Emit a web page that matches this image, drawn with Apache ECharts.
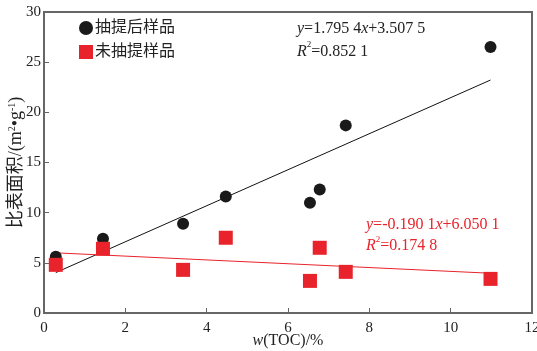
<!DOCTYPE html>
<html><head><meta charset="utf-8">
<script src="https://cdn.jsdelivr.net/npm/echarts@6/dist/echarts.min.js"></script>
<style>html,body{margin:0;padding:0;background:#fff}#c{width:537px;height:351px}</style>
</head><body><div id="c"></div>
<script>
const extractedX = [0.29, 1.45, 3.42, 4.47, 6.54, 6.78, 7.42, 10.98];
const extractedY = [5.6, 7.4, 8.9, 11.6, 11.0, 12.3, 18.7, 26.5];
const rawX = [0.29, 1.45, 3.42, 4.47, 6.54, 6.78, 7.42, 10.98];
const rawY = [4.8, 6.4, 4.3, 7.5, 3.2, 6.5, 4.1, 3.4];
const fitA = {k: 1.7954, b: 3.5075};
const fitB = {k: -0.1901, b: 6.0501};
const fitRange = [0.29, 10.98];
const xTicks = [0, 2, 4, 6, 8, 10, 12];
const yTicks = [0, 5, 10, 15, 20, 25, 30];
const names = ['抽提后样品', '未抽提样品'];

const serif = '"Liberation Serif","Noto Sans CJK SC",serif';
const axisColor = '#666';
const red = '#e8232b';
const chart = echarts.init(document.getElementById('c'));
const pairs = (xs, ys) => xs.map((x, i) => [x, ys[i]]);
const fitLine = f => fitRange.map(x => [x, f.k * x + f.b]);

chart.setOption({
  animation: false,
  textStyle: {fontFamily: serif},
  grid: {left: 44, right: 5, top: 12, bottom: 38, containLabel: false, outerBoundsMode: 'none'},
  legend: {
    orient: 'vertical', left: 74, top: 15, itemGap: 8, itemWidth: 14, itemHeight: 14,
    textStyle: {fontSize: 16, color: '#222', fontFamily: serif, padding: [0, 0, 0, -3]},
    data: [{name: names[0], icon: 'circle', itemStyle: {opacity: 1}}, {name: names[1], icon: 'rect', itemStyle: {opacity: 1}}]
  },
  xAxis: {
    type: 'value', min: 0, max: 12, interval: 2,
    name: '{i|w}(TOC)/%', nameLocation: 'middle', nameGap: 20, nameMoveOverlap: false,
    nameTextStyle: {fontSize: 16, color: '#222', fontFamily: serif,
      rich: {i: {fontStyle: 'italic', fontSize: 16, fontFamily: serif, color: '#222'}}},
    axisLine: {show: true, lineStyle: {color: axisColor, width: 2}},
    axisTick: {show: true, inside: true, length: 5, lineStyle: {color: axisColor, width: 1}},
    axisLabel: {fontSize: 15, color: '#222', margin: 8, fontFamily: serif},
    splitLine: {show: false}
  },
  yAxis: {
    type: 'value', min: 0, max: 30, interval: 5,
    name: '比表面积/(m{sup|2}•g{sup|-1})', nameLocation: 'middle', nameGap: 18, nameMoveOverlap: false,
    nameTextStyle: {fontSize: 18, color: '#222', fontFamily: serif,
      rich: {sup: {fontSize: 10, verticalAlign: 'top', padding: [0, 0, 9, 0], fontFamily: serif, color: '#222'}}},
    axisLine: {show: true, lineStyle: {color: axisColor, width: 2}},
    axisTick: {show: true, inside: true, length: 5, lineStyle: {color: axisColor, width: 1}},
    axisLabel: {fontSize: 15, color: '#222', margin: 3, fontFamily: serif},
    splitLine: {show: false}
  },
  graphic: [
    {type: 'rect', shape: {x: 44, y: 12, width: 488, height: 301}, silent: true, z: 0,
      style: {fill: 'none', stroke: axisColor, lineWidth: 2}},
    {type: 'text', left: 297, top: 17, z: 10, style: {
      text: '{i|y}=1.795 4{i|x}+3.507 5\n{i|R}{s|2}=0.852 1', fill: '#222', fontSize: 16,
      fontFamily: serif, lineHeight: 23,
      rich: {i: {fontStyle: 'italic', fontSize: 16, fontFamily: serif, fill: '#222'},
        s: {fontSize: 9, verticalAlign: 'top', padding: [0, 0, 8, 0], fontFamily: serif, fill: '#222'}}}},
    {type: 'text', left: 366, top: 214, z: 10, style: {
      text: '{i|y}=-0.190 1{i|x}+6.050 1\n{i|R}{s|2}=0.174 8', fill: red, fontSize: 16,
      fontFamily: serif, lineHeight: 21,
      rich: {i: {fontStyle: 'italic', fontSize: 16, fontFamily: serif, fill: red},
        s: {fontSize: 9, verticalAlign: 'top', padding: [0, 0, 8, 0], fontFamily: serif, fill: red}}}}
  ],
  series: [
    {name: names[0], type: 'scatter', symbol: 'circle', symbolSize: 12, z: 3,
      itemStyle: {color: '#1a1a1a', opacity: 1}, data: pairs(extractedX, extractedY)},
    {name: names[1], type: 'scatter', symbol: 'rect', symbolSize: 14, z: 4,
      itemStyle: {color: red, opacity: 1}, data: pairs(rawX, rawY)},
    {name: 'fitA', type: 'line', symbol: 'none', z: 2, silent: true,
      lineStyle: {color: '#111', width: 1}, data: fitLine(fitA)},
    {name: 'fitB', type: 'line', symbol: 'none', z: 2, silent: true,
      lineStyle: {color: red, width: 1}, data: fitLine(fitB)}
  ]
});
</script></body></html>
